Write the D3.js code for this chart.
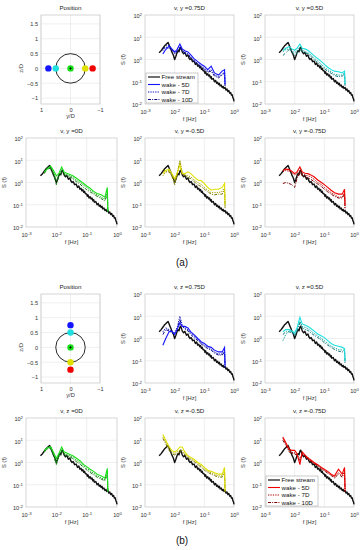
<!DOCTYPE html>
<html>
<head>
<meta charset="utf-8">
<script src="https://cdn.jsdelivr.net/npm/d3@7"></script>
<style>
  body { margin: 0; background: #fff; }
  text { font-family: "Liberation Sans", Arial, sans-serif; }
</style>
</head>
<body>
<div id="chart"></div>
<script>
// ---- data ----
const freqTicks = [1e-3, 1e-2, 1e-1, 1];
const psdTicks = [1e-2, 1e-1, 1, 10, 100];
const posXTicks = [1, 0, -1];
const posYTicks = [-1, -0.5, 0, 0.5, 1, 1.5];
const probeOffsets = [0.75, 0.5, 0, -0.5, -0.75];
const probeColors = ["#1414ff", "#1ee0e0", "#18e018", "#e0e000", "#f00000"];
const legendLabels = ["Free stream", "wake - 5D", "wake - 7D", "wake - 10D"];

// free stream spectrum (same in every panel)
const fsFreq = [0.003, 0.0035, 0.004, 0.0045, 0.005, 0.0055, 0.006, 0.0065, 0.007, 0.0075,
  0.008, 0.009, 0.01, 0.011, 0.012, 0.013, 0.014, 0.015, 0.016, 0.018,
  0.02, 0.022, 0.025, 0.028, 0.03, 0.033, 0.036, 0.04, 0.045,
  0.05, 0.055, 0.06, 0.065, 0.07, 0.075, 0.08, 0.085, 0.09, 0.1,
  0.105, 0.11, 0.12, 0.13, 0.14, 0.15, 0.16, 0.17, 0.18, 0.2,
  0.22, 0.24, 0.26, 0.28, 0.3, 0.32, 0.34, 0.37, 0.4, 0.43,
  0.46, 0.5, 0.54, 0.58, 0.62, 0.67, 0.72, 0.77, 0.82, 0.87,
  0.92, 0.96, 1.0];
const fsPsd = [2.0, 2.5, 3.2, 4.0, 4.6, 5.2, 5.8, 4.5, 3.5, 2.8,
  2.2, 1.6, 1.0, 1.4, 2.0, 2.5, 2.2, 3.2, 3.6, 2.2,
  1.8, 2.1, 1.4, 1.6, 1.2, 1.0, 1.1, 0.8, 0.85,
  0.6, 0.7, 0.5, 0.55, 0.42, 0.48, 0.36, 0.4, 0.32, 0.3,
  0.24, 0.28, 0.2, 0.23, 0.18, 0.2, 0.15, 0.17, 0.13, 0.14,
  0.1, 0.115, 0.085, 0.095, 0.075, 0.085, 0.065, 0.072, 0.055, 0.062,
  0.05, 0.055, 0.042, 0.047, 0.036, 0.04, 0.03, 0.033, 0.025, 0.026,
  0.019, 0.017, 0.013];

// wake spectra, common frequency grid; each panel: [5D, 7D, 10D]
const wkFreq = [0.004, 0.005, 0.0065, 0.008, 0.01, 0.012, 0.015, 0.018, 0.022, 0.028, 0.035,
  0.045, 0.06, 0.08, 0.1, 0.13, 0.17, 0.22, 0.3, 0.4, 0.48, 0.5];

const aY075 = [
  [1.8, 2.8, 4.0, 3.0, 2.2, 2.8, 5.0, 3.0, 2.5, 2.2, 1.6, 1.1, 0.8, 0.6, 0.5, 0.35, 0.5, 0.25, 0.2, 0.3, 0.35, 0.08],
  [2.5, 3.5, 3.2, 2.6, 2.0, 2.4, 3.8, 2.6, 2.0, 1.8, 1.3, 0.9, 0.65, 0.5, 0.4, 0.3, 0.35, 0.2, 0.17, 0.22, 0.28, 0.07],
  [3.0, 4.0, 4.5, 3.0, 1.8, 2.2, 3.2, 2.4, 1.9, 1.6, 1.2, 0.85, 0.6, 0.45, 0.35, 0.27, 0.3, 0.18, 0.15, 0.2, 0.25, 0.06]];
const aY050 = [
  [2.5, 3.2, 3.8, 3.0, 2.6, 3.2, 5.0, 3.2, 3.0, 2.6, 2.0, 1.5, 1.1, 0.8, 0.6, 0.45, 0.35, 0.3, 0.28, 0.25, 0.3, 0.08],
  [2.2, 2.8, 3.0, 2.5, 2.0, 2.5, 3.5, 2.6, 2.3, 2.0, 1.6, 1.2, 0.85, 0.6, 0.45, 0.35, 0.28, 0.22, 0.2, 0.2, 0.25, 0.07],
  [1.5, 2.0, 2.8, 2.2, 1.5, 2.0, 2.8, 2.2, 2.0, 1.8, 1.4, 1.0, 0.7, 0.5, 0.38, 0.3, 0.24, 0.19, 0.17, 0.18, 0.22, 0.06]];
const aY000 = [
  [3.0, 4.0, 5.5, 3.5, 2.0, 2.5, 5.0, 3.0, 2.6, 2.3, 2.0, 1.6, 1.2, 0.9, 0.7, 0.55, 0.4, 0.32, 0.28, 0.22, 0.6, 0.05],
  [2.8, 4.5, 5.0, 3.0, 1.2, 2.0, 3.8, 2.6, 2.3, 2.0, 1.7, 1.3, 1.0, 0.75, 0.6, 0.45, 0.35, 0.28, 0.22, 0.18, 0.4, 0.05],
  [2.5, 4.0, 4.5, 2.5, 0.8, 1.8, 3.0, 2.3, 2.0, 1.8, 1.5, 1.1, 0.85, 0.6, 0.48, 0.38, 0.3, 0.24, 0.19, 0.15, 0.3, 0.05]];
const aYm050 = [
  [2.5, 3.5, 4.0, 2.5, 1.5, 2.5, 6.0, 2.5, 2.5, 3.0, 2.5, 1.8, 1.3, 1.2, 0.9, 0.6, 0.45, 0.5, 0.5, 0.6, 0.9, 0.1],
  [2.0, 3.0, 3.5, 2.2, 1.0, 2.0, 10.0, 3.0, 2.2, 2.0, 1.8, 1.3, 1.0, 0.8, 0.6, 0.45, 0.35, 0.35, 0.35, 0.4, 0.6, 0.08],
  [4.0, 3.0, 3.0, 2.0, 0.8, 2.5, 8.0, 2.5, 2.0, 1.7, 1.5, 1.1, 0.8, 0.65, 0.5, 0.38, 0.3, 0.28, 0.3, 0.3, 0.5, 0.07]];
const aYm075 = [
  [3.5, 4.0, 3.8, 3.2, 2.5, 3.0, 5.0, 3.0, 2.6, 2.5, 2.2, 1.8, 1.3, 1.0, 0.8, 0.6, 0.45, 0.35, 0.3, 0.3, 0.5, 0.1],
  [3.0, 3.5, 3.2, 2.8, 2.2, 2.5, 3.5, 2.5, 2.2, 2.0, 1.8, 1.4, 1.0, 0.8, 0.6, 0.45, 0.35, 0.28, 0.22, 0.22, 0.35, 0.07],
  [0.9, 1.0, 0.9, 0.8, 0.6, 1.5, 3.0, 2.0, 1.8, 1.6, 1.4, 1.1, 0.85, 0.65, 0.5, 0.38, 0.3, 0.24, 0.2, 0.2, 0.3, 0.06]];

const bZ075 = [
  [0.5, 1.0, 2.0, 2.2, 1.5, 2.5, 5.0, 3.5, 3.5, 3.0, 2.0, 1.5, 1.0, 0.7, 0.6, 0.45, 0.4, 0.3, 0.25, 0.25, 0.4, 0.06],
  [2.0, 3.0, 2.5, 2.0, 1.8, 3.0, 10.0, 4.0, 3.0, 2.5, 1.7, 1.3, 0.9, 0.6, 0.5, 0.4, 0.33, 0.25, 0.2, 0.2, 0.3, 0.05],
  [1.5, 2.5, 2.2, 1.8, 1.6, 2.5, 7.0, 3.5, 2.7, 2.2, 1.5, 1.1, 0.8, 0.55, 0.45, 0.35, 0.3, 0.22, 0.18, 0.18, 0.25, 0.05]];
const bZ050 = [
  [2.0, 2.5, 2.5, 2.2, 1.8, 3.0, 9.0, 4.5, 4.0, 3.5, 2.8, 2.2, 1.6, 1.3, 1.1, 0.8, 0.6, 0.5, 0.45, 0.4, 0.35, 0.1],
  [0.8, 1.5, 2.2, 2.0, 1.5, 2.5, 6.0, 3.5, 3.2, 2.8, 2.2, 1.7, 1.3, 1.0, 0.8, 0.6, 0.45, 0.38, 0.32, 0.3, 0.3, 0.08],
  [1.5, 2.0, 2.0, 1.8, 1.4, 2.2, 5.0, 3.0, 2.6, 2.3, 1.8, 1.4, 1.1, 0.85, 0.65, 0.5, 0.4, 0.32, 0.27, 0.25, 0.25, 0.07]];
const bZ000 = [
  [3.5, 4.5, 5.0, 3.0, 1.5, 2.5, 5.0, 3.0, 2.7, 2.3, 2.0, 1.6, 1.2, 0.8, 0.65, 0.5, 0.4, 0.3, 0.25, 0.2, 0.55, 0.05],
  [3.0, 4.5, 5.5, 2.5, 1.0, 2.0, 4.0, 2.6, 2.3, 2.0, 1.7, 1.3, 1.0, 0.7, 0.55, 0.42, 0.33, 0.26, 0.2, 0.17, 0.4, 0.05],
  [3.0, 4.0, 4.5, 2.2, 0.8, 1.8, 3.2, 2.3, 2.0, 1.8, 1.5, 1.1, 0.85, 0.6, 0.47, 0.36, 0.28, 0.22, 0.18, 0.15, 0.3, 0.05]];
const bZm050 = [
  [18.0, 10.0, 5.0, 3.5, 3.0, 3.5, 5.0, 5.0, 3.0, 2.0, 1.7, 1.4, 1.0, 0.8, 0.6, 0.45, 0.4, 0.35, 0.3, 0.3, 0.6, 0.05],
  [14.0, 8.0, 4.0, 3.0, 2.5, 3.0, 3.5, 3.5, 2.5, 1.8, 1.5, 1.2, 0.9, 0.7, 0.5, 0.4, 0.35, 0.3, 0.25, 0.25, 0.4, 0.05],
  [12.0, 7.0, 3.5, 2.5, 2.2, 2.5, 3.0, 3.0, 2.2, 1.6, 1.3, 1.1, 0.8, 0.6, 0.45, 0.36, 0.3, 0.26, 0.22, 0.22, 0.35, 0.05]];
const bZm075 = [
  [14.0, 8.0, 4.0, 3.5, 3.5, 2.5, 0.8, 3.0, 2.2, 1.6, 1.3, 1.0, 0.8, 0.6, 0.5, 0.4, 0.3, 0.25, 0.5, 0.3, 0.6, 0.06],
  [12.0, 7.0, 3.5, 2.8, 2.8, 2.2, 1.5, 2.5, 2.0, 1.5, 1.2, 0.95, 0.75, 0.55, 0.45, 0.36, 0.28, 0.22, 0.35, 0.25, 0.4, 0.05],
  [10.0, 6.0, 3.0, 2.5, 2.5, 2.0, 1.2, 2.2, 1.8, 1.4, 1.1, 0.9, 0.7, 0.5, 0.42, 0.33, 0.26, 0.2, 0.3, 0.22, 0.35, 0.05]];

// ---- layout ----
const W = 363, H = 550;
const rowTop = [15, 138, 294, 418];
const rowBot = [104, 227, 383, 507];
const colL = [26, 145, 265];
const colR = [117, 234, 354];

const svg = d3.select("#chart").append("svg")
  .attr("width", W).attr("height", H);

const gridColor = "#e4e4e4";
const boxColor = "#c4c4c4";
const dashes = [null, "1.3,1.1", "3,1.2,0.9,1.2"];

function powerLabels(g) {
  g.selectAll(".tick text").each(function(d) {
    const t = d3.select(this);
    t.text(null);
    t.append("tspan").text("10");
    t.append("tspan").attr("dy", "-2.4").attr("font-size", 4.3)
      .text(Math.round(Math.log10(d)));
  });
}

function spectrum(row, col, title, colorIdx, series, legend) {
  const l = colL[col], r = colR[col], t = rowTop[row], b = rowBot[row];
  const x = d3.scaleLog().domain([1e-3, 1]).range([l, r]);
  const y = d3.scaleLog().domain([1e-2, 1e2]).range([b, t]);
  const g = svg.append("g");

  g.append("rect").attr("x", l).attr("y", t).attr("width", r - l).attr("height", b - t)
    .attr("fill", "#fff");
  g.selectAll(".gx").data(freqTicks.slice(1, -1)).enter().append("line")
    .attr("x1", d => x(d)).attr("x2", d => x(d)).attr("y1", t).attr("y2", b)
    .attr("stroke", gridColor).attr("stroke-width", 0.6);
  g.selectAll(".gy").data(psdTicks.slice(1, -1)).enter().append("line")
    .attr("y1", d => y(d)).attr("y2", d => y(d)).attr("x1", l).attr("x2", r)
    .attr("stroke", gridColor).attr("stroke-width", 0.6);
  g.append("rect").attr("x", l).attr("y", t).attr("width", r - l).attr("height", b - t)
    .attr("fill", "none").attr("stroke", boxColor).attr("stroke-width", 0.7);

  const ax = g.append("g").attr("transform", `translate(0,${b})`)
    .call(d3.axisBottom(x).tickValues(freqTicks).tickSize(0).tickPadding(6))
    .attr("font-size", 5.6).attr("font-family", null).attr("color", "#333");
  ax.select(".domain").remove();
  ax.call(powerLabels);
  const ay = g.append("g").attr("transform", `translate(${l},0)`)
    .call(d3.axisLeft(y).tickValues(psdTicks).tickSize(0).tickPadding(3))
    .attr("font-size", 5.6).attr("font-family", null).attr("color", "#333");
  ay.select(".domain").remove();
  ay.call(powerLabels);
  ay.selectAll(".tick text").attr("dy", "0.5em");

  g.append("text").attr("x", (l + r) / 2).attr("y", b + 17)
    .attr("text-anchor", "middle").attr("font-size", 5.8).attr("fill", "#333").text("f [Hz]");
  g.append("text").attr("transform", `translate(${l - 20},${(t + b) / 2}) rotate(-90)`)
    .attr("text-anchor", "middle").attr("font-size", 5.8).attr("fill", "#333").text("S (f)");
  g.append("text").attr("x", (l + r) / 2).attr("y", t - 5)
    .attr("text-anchor", "middle").attr("font-size", 6.2).attr("fill", "#222").text(title);

  const line = d3.line().x(d => x(d[0])).y(d => y(d[1]));
  const base = probeColors[colorIdx];
  const shades = [base, d3.color(base).darker(0.9).formatHex(), d3.color(base).darker(1.8).formatHex()];

  g.append("path").datum(d3.zip(fsFreq, fsPsd)).attr("d", line)
    .attr("fill", "none").attr("stroke", "#111").attr("stroke-width", 1.4)
    .attr("stroke-linejoin", "round");
  [2, 1, 0].forEach(k => {
    g.append("path").datum(d3.zip(wkFreq, series[k])).attr("d", line)
      .attr("fill", "none").attr("stroke", shades[k])
      .attr("stroke-width", k === 0 ? 1.1 : 1.0)
      .attr("stroke-dasharray", dashes[k]);
  });

  if (legend) {
    const lx = l + 1, ly = b - 31;
    const lg = g.append("g");
    lg.append("rect").attr("x", lx).attr("y", ly).attr("width", 52).attr("height", 30)
      .attr("fill", "#fff").attr("stroke", "#aaa").attr("stroke-width", 0.6);
    legendLabels.forEach((lab, i) => {
      const yy = ly + 4 + i * 7.5;
      lg.append("line").attr("x1", lx + 2).attr("x2", lx + 14).attr("y1", yy).attr("y2", yy)
        .attr("stroke", i === 0 ? "#111" : shades[i - 1])
        .attr("stroke-width", i === 0 ? 1.2 : 1.1)
        .attr("stroke-dasharray", i === 0 ? null : dashes[i - 1]);
      lg.append("text").attr("x", lx + 15.5).attr("y", yy + 2.1)
        .attr("font-size", 6.2).attr("fill", "#111").text(lab);
    });
  }
}

function position(row, horizontal) {
  const l = 41, r = 100, t = rowTop[row], b = rowBot[row];
  const x = d3.scaleLinear().domain([1, -1]).range([l, r]);
  const y = d3.scaleLinear().domain([-1.2, 1.8]).range([b, t]);
  const g = svg.append("g");

  g.selectAll(".gx").data(posXTicks).enter().append("line")
    .attr("x1", d => x(d)).attr("x2", d => x(d)).attr("y1", t).attr("y2", b)
    .attr("stroke", gridColor).attr("stroke-width", 0.6);
  g.selectAll(".gy").data(posYTicks).enter().append("line")
    .attr("y1", d => y(d)).attr("y2", d => y(d)).attr("x1", l).attr("x2", r)
    .attr("stroke", gridColor).attr("stroke-width", 0.6);
  g.append("rect").attr("x", l).attr("y", t).attr("width", r - l).attr("height", b - t)
    .attr("fill", "none").attr("stroke", boxColor).attr("stroke-width", 0.7);

  const ax = g.append("g").attr("transform", `translate(0,${b})`)
    .call(d3.axisBottom(x).tickValues(posXTicks).tickSize(0).tickPadding(4).tickFormat(d3.format("")))
    .attr("font-size", 5.6).attr("font-family", null).attr("color", "#333");
  ax.select(".domain").remove();
  const ay = g.append("g").attr("transform", `translate(${l},0)`)
    .call(d3.axisLeft(y).tickValues(posYTicks).tickSize(0).tickPadding(3).tickFormat(d3.format("")))
    .attr("font-size", 5.6).attr("font-family", null).attr("color", "#333");
  ay.select(".domain").remove();

  g.append("text").attr("x", (l + r) / 2).attr("y", b + 14)
    .attr("text-anchor", "middle").attr("font-size", 5.8).attr("fill", "#333").text("y/D");
  g.append("text").attr("transform", `translate(${l - 18},${y(0)}) rotate(-90)`)
    .attr("text-anchor", "middle").attr("font-size", 5.8).attr("fill", "#333").text("z/D");
  g.append("text").attr("x", (l + r) / 2).attr("y", t - 5)
    .attr("text-anchor", "middle").attr("font-size", 6.2).attr("fill", "#222").text("Position");

  g.append("circle").attr("cx", x(0)).attr("cy", y(0)).attr("r", x(0) - x(0.5))
    .attr("fill", "none").attr("stroke", "#111").attr("stroke-width", 0.9);
  probeOffsets.forEach((p, i) => {
    g.append("circle")
      .attr("cx", horizontal ? x(p) : x(0))
      .attr("cy", horizontal ? y(0) : y(p))
      .attr("r", 3.2).attr("fill", probeColors[i]);
  });
  g.append("path").attr("d", `M${x(0) - 1.3},${y(0)}H${x(0) + 1.3}M${x(0)},${y(0) - 1.3}V${y(0) + 1.3}`)
    .attr("stroke", "#000").attr("stroke-width", 0.7);
}

// block (a)
position(0, true);
spectrum(0, 1, "v, y =0.75D", 0, aY075, true);
spectrum(0, 2, "v, y =0.5D", 1, aY050, false);
spectrum(1, 0, "v, y =0D", 2, aY000, false);
spectrum(1, 1, "v, y =-0.5D", 3, aYm050, false);
spectrum(1, 2, "v, y =-0.75D", 4, aYm075, false);
// block (b)
position(2, false);
spectrum(2, 1, "v, z =0.75D", 0, bZ075, false);
spectrum(2, 2, "v, z =0.5D", 1, bZ050, false);
spectrum(3, 0, "v, z =0D", 2, bZ000, false);
spectrum(3, 1, "v, z =-0.5D", 3, bZm050, false);
spectrum(3, 2, "v, z =-0.75D", 4, bZm075, true);

svg.append("text").attr("x", 182).attr("y", 266).attr("text-anchor", "middle")
  .attr("font-family", "Liberation Serif, serif").attr("font-size", 10).attr("fill", "#111").text("(a)");
svg.append("text").attr("x", 182).attr("y", 544).attr("text-anchor", "middle")
  .attr("font-family", "Liberation Serif, serif").attr("font-size", 10).attr("fill", "#111").text("(b)");
</script>
</body>
</html>
